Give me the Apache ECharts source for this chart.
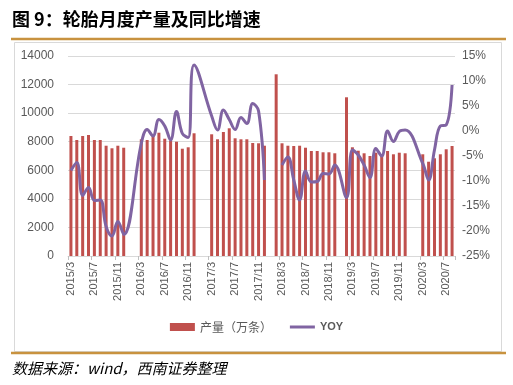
<!DOCTYPE html>
<html>
<head>
<meta charset="utf-8">
<script src="https://cdn.jsdelivr.net/npm/echarts@6/dist/echarts.min.js"></script>
<style>
html,body{margin:0;padding:0;background:#fff;}
#c{width:513px;height:385px;}
</style>
</head>
<body>
<div id="c"></div>
<script>
const categories = [
  '2015/3','2015/4','2015/5','2015/6','2015/7','2015/8','2015/9','2015/10','2015/11','2015/12',
  '2016/1','2016/2','2016/3','2016/4','2016/5','2016/6','2016/7','2016/8','2016/9','2016/10','2016/11','2016/12',
  '2017/1','2017/2','2017/3','2017/4','2017/5','2017/6','2017/7','2017/8','2017/9','2017/10','2017/11','2017/12',
  '2018/1','2018/2','2018/3','2018/4','2018/5','2018/6','2018/7','2018/8','2018/9','2018/10','2018/11','2018/12',
  '2019/1','2019/2','2019/3','2019/4','2019/5','2019/6','2019/7','2019/8','2019/9','2019/10','2019/11','2019/12',
  '2020/1','2020/2','2020/3','2020/4','2020/5','2020/6','2020/7','2020/8'
];
const production = [
  8400, 8120, 8400, 8470, 8120, 8120, 7720, 7540, 7720, 7580,
  null, null, 8170, 8120, 8400, 8630, 8210, 8070, 8000, 7510, 7610, 8590,
  null, null, 8520, 8170, 8680, 8940, 8240, 8170, 8170, 7910, 7890, 7720,
  null, 12720, 7890, 7720, 7700, 7720, 7580, 7350, 7350, 7260, 7260, 7190,
  null, 11110, 7610, 7370, 7190, 7000, 7230, 7000, 7350, 7120, 7230, 7190,
  null, null, 7120, 6600, 6840, 7120, 7470, 7700
];
const yoy = [
  -7.9, -6.3, -12.9, -11.3, -13.9, -13.8, -19.1, -21.0, -18.1, -20.7,
  null, null, -2.5, 0.3, -1.0, 2.3, 1.0, -1.8, 3.9, -0.5, -1.3, 13.2,
  null, null, 3.0, 0.2, 4.2, 2.3, 0.3, 2.7, 1.5, 5.5, 4.0, -9.8,
  null, null, -6.8, -5.2, -9.8, -13.8, -8.0, -10.2, -10.1, -8.5, -8.6, -6.8,
  null, -13.3, -3.8, -4.8, -6.8, -9.3, -3.5, -5.0, 0.0, -2.1, -0.1, 0.2,
  null, null, -6.5, -9.8, -3.8, 1.0, 1.2, 9.2
];
const leftTicks = {min: 0, max: 14000, interval: 2000};
const rightTicks = {min: -25, max: 15, interval: 5};
const titleText = '图 9：轮胎月度产量及同比增速';
const sourceText = '数据来源：wind，西南证券整理';
const barName = '产量（万条）';
const lineName = 'YOY';
const breakIndex = categories.indexOf('2018/1');

const yoyA = yoy.map((v, i) => i < breakIndex ? v : null);
const yoyB = yoy.map((v, i) => i >= breakIndex ? v : null);

const chart = echarts.init(document.getElementById('c'), null, {renderer: 'canvas'});
const font = 'Liberation Sans, Arial, sans-serif';
const lineStyleCommon = {color: '#8064A2', width: 3};
chart.setOption({
  animation: false,
  backgroundColor: '#fff',
  textStyle: {fontFamily: font},
  graphic: [
    {type: 'text', left: 12, top: 10, style: {text: titleText, fontSize: 18, fontWeight: 'bold', fill: '#000', fontFamily: 'Noto Sans CJK SC'}},
    {type: 'line', shape: {x1: 11, y1: 39, x2: 506, y2: 39}, style: {stroke: '#C8923F', lineWidth: 2.5}},
    {type: 'rect', shape: {x: 14.5, y: 42.5, width: 487, height: 309}, style: {fill: 'none', stroke: '#D9D9D9', lineWidth: 1}},
    {type: 'line', shape: {x1: 11, y1: 353, x2: 506, y2: 353}, style: {stroke: '#C8923F', lineWidth: 2.5}},
    {type: 'text', left: 12, top: 361, style: {text: sourceText, fontSize: 15, fontStyle: 'italic', fill: '#000', fontFamily: 'Noto Sans CJK SC'}}
  ],
  grid: {left: 68, right: 58, top: 56, bottom: 129, containLabel: false},
  legend: {
    bottom: 47, left: 'center', itemWidth: 25, itemHeight: 8, itemGap: 18,
    textStyle: {fontSize: 12, color: '#595959', fontFamily: 'Noto Sans CJK SC'},
    data: [
      {name: barName, icon: 'rect'},
      {name: lineName, icon: 'path://M0,0h25v3h-25z', textStyle: {fontWeight: 'bold', fontFamily: font, fontSize: 11}}
    ]
  },
  xAxis: {
    type: 'category', data: categories, boundaryGap: true,
    axisLine: {lineStyle: {color: '#D9D9D9'}},
    axisTick: {show: true, interval: 3, length: 4, lineStyle: {color: '#BFBFBF'}},
    axisLabel: {interval: 3, rotate: 90, fontSize: 11, color: '#595959', margin: 6, fontFamily: font}
  },
  yAxis: [
    {type: 'value', min: leftTicks.min, max: leftTicks.max, interval: leftTicks.interval,
     axisLine: {show: false}, axisTick: {show: false},
     axisLabel: {fontSize: 12, color: '#595959', margin: 14, fontFamily: font, formatter: v => String(v)},
     splitLine: {lineStyle: {color: '#D9D9D9'}}},
    {type: 'value', min: rightTicks.min, max: rightTicks.max, interval: rightTicks.interval, position: 'right',
     axisLine: {show: false}, axisTick: {show: false},
     axisLabel: {fontSize: 12, color: '#595959', margin: 7, formatter: '{value}%', fontFamily: font},
     splitLine: {show: false}}
  ],
  series: [
    {name: barName, type: 'bar', data: production, barWidth: 3, itemStyle: {color: '#C0504D'}, yAxisIndex: 0},
    {name: lineName, type: 'line', data: yoyA, yAxisIndex: 1, smooth: 0.4, connectNulls: true,
     symbol: 'none', lineStyle: lineStyleCommon, itemStyle: {color: '#8064A2'}},
    {name: lineName, type: 'line', data: yoyB, yAxisIndex: 1, smooth: 0.4, connectNulls: true,
     symbol: 'none', lineStyle: lineStyleCommon, itemStyle: {color: '#8064A2'}}
  ]
});
</script>
</body>
</html>
